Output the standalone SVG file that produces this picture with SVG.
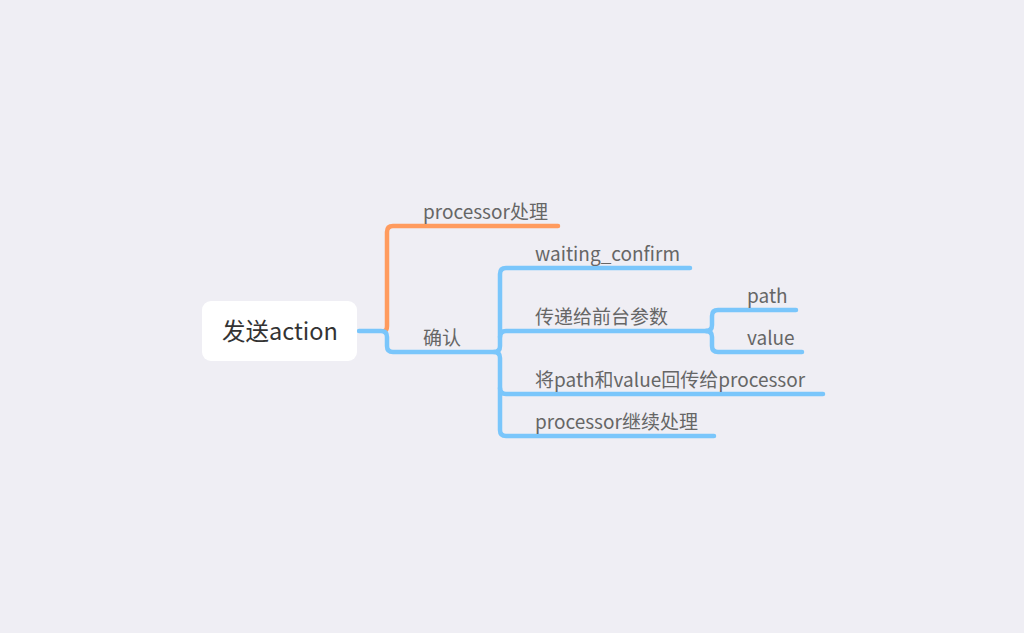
<svg xmlns="http://www.w3.org/2000/svg" width="1024" height="633" viewBox="0 0 1024 633">
<style>
.bg{fill:#EFEEF4}
.c{fill:none;stroke-width:4.5;stroke-linecap:round;stroke-linejoin:round}
.b{stroke:#7AC6FB}
.o{stroke:#FF9B5E}
.t{font-family:"Noto Sans CJK SC","Noto Sans",sans-serif;font-size:19px;fill:#666}
.r{font-family:"Noto Sans CJK SC","Noto Sans",sans-serif;font-size:23.5px;fill:#333}
</style>
<rect class="bg" width="1024" height="633"/>
<g id="connectors">
<path class="c o" d="M384,331 Q387,331 387,326 L387,232 Q387,226 393,226 L558,226"/>
<path class="c b" d="M359,331 L381,331 Q387,331 387,337 L387,346 Q387,352 393,352 L494,352 Q500,352 500,346 L500,274 Q500,268 506,268 L690,268"/>
<path class="c b" d="M494,352 Q500,352 500,358 L500,430 Q500,436 506,436 L714,436"/>
<path class="c b" d="M500,337 Q500,331 506,331 L708,331"/>
<path class="c b" d="M500,388 Q500,394 506,394 L823,394"/>
<path class="c b" d="M706,331 Q712,331 712,325 L712,316 Q712,310 718,310 L796,310"/>
<path class="c b" d="M706,331 Q712,331 712,337 L712,346 Q712,352 718,352 L802,352"/>
</g>
<g id="root">
<rect x="202" y="301" width="155" height="60" rx="9" fill="#fff"/>
<text class="r" x="222" y="340">发送action</text>
</g>
<g id="n1"><text class="t" x="423" y="219">processor处理</text></g>
<g id="n2"><text class="t" x="423" y="345">确认</text></g>
<g id="n3"><text class="t" x="535" y="261">waiting_confirm</text></g>
<g id="n4"><text class="t" x="535" y="324">传递给前台参数</text></g>
<g id="n5"><text class="t" x="747" y="303">path</text></g>
<g id="n6"><text class="t" x="747" y="345">value</text></g>
<g id="n7"><text class="t" x="535" y="387">将path和value回传给processor</text></g>
<g id="n8"><text class="t" x="535" y="429">processor继续处理</text></g>
</svg>
